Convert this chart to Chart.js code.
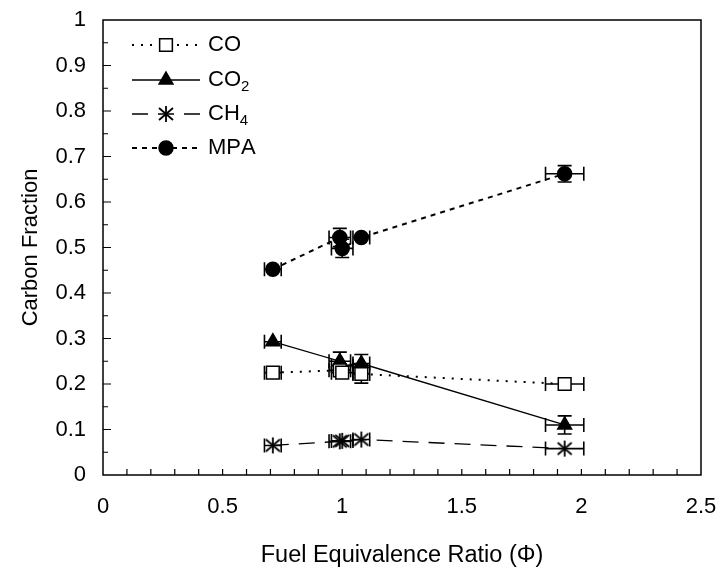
<!DOCTYPE html>
<html>
<head>
<meta charset="utf-8">
<script src="https://cdn.jsdelivr.net/npm/chart.js@4.4.0/dist/chart.umd.min.js"></script>
<style>
  html, body { margin: 0; padding: 0; background: #fff; }
  #wrap { width: 718px; height: 567px; }
</style>
</head>
<body>
<div id="wrap"><canvas id="plot" width="718" height="567"></canvas></div>
<script>
// fuel equivalence ratio of each run, with its uncertainty
const phi    = [0.71, 0.99, 1.00, 1.08, 1.93];
const phiErr = [0.035, 0.045, 0.045, 0.035, 0.08];

// carbon fraction per species and its uncertainty
const fracCO     = [0.225, 0.23, 0.225, 0.222, 0.20];
const fracErrCO  = [0.005, 0.01, 0.01, 0.02, 0.008];
const fracCO2    = [0.293, 0.25, 0.24, 0.245, 0.11];
const fracErrCO2 = [0.005, 0.02, 0.015, 0.02, 0.02];
const fracCH4    = [0.065, 0.074, 0.075, 0.078, 0.058];
const fracErrCH4 = [0.003, 0.004, 0.004, 0.004, 0.004];
const fracMPA    = [0.452, 0.522, 0.498, 0.522, 0.662];
const fracErrMPA = [0.005, 0.02, 0.02, 0.012, 0.018];

const xTicks = [0, 0.5, 1, 1.5, 2, 2.5];
const yTicks = [0, 0.1, 0.2, 0.3, 0.4, 0.5, 0.6, 0.7, 0.8, 0.9, 1];

const FONT = 'Liberation Sans, Arial, sans-serif';

// asterisk marker: vertical stroke plus an X
function makeAsterisk() {
    const c = document.createElement('canvas');
    c.width = 18; c.height = 18;
    const g = c.getContext('2d');
    g.strokeStyle = '#000';
    g.lineWidth = 1.8;
    g.beginPath();
    g.moveTo(9, 1); g.lineTo(9, 17);
    g.moveTo(2, 3); g.lineTo(16, 15);
    g.moveTo(2, 15); g.lineTo(16, 3);
    g.stroke();
    return c;
}
const asterisk = makeAsterisk();

function pts(ys) {
    return phi.map((x, i) => ({ x: x, y: ys[i] }));
}

function series(label, ys, errs, style, fill, dash, width, radius) {
    return {
        label: label,
        data: pts(ys),
        errX: phiErr,
        errY: errs,
        showLine: true,
        borderColor: '#000',
        borderWidth: width,
        borderDash: dash,
        backgroundColor: fill,
        pointStyle: style,
        pointRadius: radius,
        pointBorderWidth: 1.5,
        pointBorderColor: '#000',
        pointBackgroundColor: fill,
        pointHoverRadius: radius
    };
}

// error bars with end caps
const errorBars = {
    id: 'errorBars',
    beforeDatasetsDraw(chart) {
        const ctx = chart.ctx;
        const xs = chart.scales.x, ys = chart.scales.y;
        ctx.save();
        ctx.strokeStyle = '#000';
        ctx.lineWidth = 1.6;
        chart.data.datasets.forEach((ds) => {
            ds.data.forEach((p, i) => {
                const px = xs.getPixelForValue(p.x);
                const py = ys.getPixelForValue(p.y);
                const x0 = xs.getPixelForValue(p.x - ds.errX[i]);
                const x1 = xs.getPixelForValue(p.x + ds.errX[i]);
                const y0 = ys.getPixelForValue(p.y - ds.errY[i]);
                const y1 = ys.getPixelForValue(p.y + ds.errY[i]);
                ctx.beginPath();
                if (px - x0 > 7) {
                    ctx.moveTo(x0, py); ctx.lineTo(x1, py);
                    ctx.moveTo(x0, py - 7); ctx.lineTo(x0, py + 7);
                    ctx.moveTo(x1, py - 7); ctx.lineTo(x1, py + 7);
                }
                if (y0 - py > 7) {
                    ctx.moveTo(px, y0); ctx.lineTo(px, y1);
                    ctx.moveTo(px - 7, y0); ctx.lineTo(px + 7, y0);
                    ctx.moveTo(px - 7, y1); ctx.lineTo(px + 7, y1);
                }
                ctx.stroke();
            });
        });
        ctx.restore();
    }
};

// frame and inward tick marks
const frame = {
    id: 'frame',
    afterDraw(chart) {
        const ctx = chart.ctx;
        const a = chart.chartArea;
        const xs = chart.scales.x, ys = chart.scales.y;
        ctx.save();
        ctx.strokeStyle = '#000';
        ctx.lineWidth = 1.5;
        ctx.strokeRect(a.left, a.top, a.right - a.left, a.bottom - a.top);
        ctx.lineWidth = 1.2;
        ctx.beginPath();
        for (let k = 1; k < 20; k++) {
            const y = ys.getPixelForValue(k * 0.05);
            const len = k % 2 === 0 ? 8 : 5;
            ctx.moveTo(a.left, y); ctx.lineTo(a.left + len, y);
        }
        for (let k = 1; k < 25; k++) {
            const x = xs.getPixelForValue(k * 0.1);
            ctx.moveTo(x, a.bottom); ctx.lineTo(x, a.bottom - 6);
        }
        ctx.stroke();
        ctx.restore();
    }
};

// legend drawn inside the plot: line sample, marker, label with subscripts
const innerLegend = {
    id: 'innerLegend',
    afterDraw(chart) {
        const ctx = chart.ctx;
        const rows = [45, 80, 114, 148];
        ctx.save();
        chart.data.datasets.forEach((ds, i) => {
            const y = rows[i];
            ctx.strokeStyle = '#000';
            ctx.lineWidth = ds.borderWidth;
            ctx.setLineDash(ds.borderDash);
            ctx.beginPath();
            ctx.moveTo(132, y); ctx.lineTo(200, y);
            ctx.stroke();
            ctx.setLineDash([]);
            ctx.fillStyle = ds.pointBackgroundColor;
            ctx.lineWidth = ds.pointBorderWidth;
            Chart.helpers.drawPoint(ctx, {
                pointStyle: ds.pointStyle, radius: ds.pointRadius, rotation: 0, borderWidth: 1.5
            }, 166, y);
            // label, subscript digits drawn small and low
            ctx.fillStyle = '#000';
            ctx.textBaseline = 'middle';
            let tx = 208;
            for (const ch of ds.label) {
                const code = ch.charCodeAt(0);
                if (code >= 0x2080 && code <= 0x2089) {
                    const d = String(code - 0x2080);
                    ctx.font = '15px ' + FONT;
                    ctx.fillText(d, tx, y + 7);
                    tx += ctx.measureText(d).width;
                } else {
                    ctx.font = '22px ' + FONT;
                    ctx.fillText(ch, tx, y);
                    tx += ctx.measureText(ch).width;
                }
            }
        });
        ctx.restore();
    }
};

new Chart(document.getElementById('plot'), {
    type: 'scatter',
    data: {
        datasets: [
            series('CO', fracCO, fracErrCO, 'rect', '#fff', [2, 7], 2, 9),
            series('CO\u2082', fracCO2, fracErrCO2, 'triangle', '#000', [], 1.3, 8),
            series('CH\u2084', fracCH4, fracErrCH4, asterisk, '#000', [16, 10], 1.3, 8),
            series('MPA', fracMPA, fracErrMPA, 'circle', '#000', [5, 5], 2, 7)
        ]
    },
    options: {
        responsive: false,
        animation: false,
        devicePixelRatio: 1,
        layout: { padding: { top: 20, right: 17, left: 0, bottom: 0 } },
        plugins: {
            legend: { display: false },
            tooltip: { enabled: false }
        },
        scales: {
            x: {
                type: 'linear',
                min: 0,
                max: 2.5,
                afterFit: (s) => { s.height = 92; s.paddingLeft = 0; s.paddingRight = 0; },
                afterBuildTicks: (s) => { s.ticks = xTicks.map(v => ({ value: v })); },
                grid: { display: false, drawTicks: false },
                border: { display: false },
                ticks: {
                    padding: 19,
                    color: '#000',
                    font: { family: FONT, size: 22 },
                    callback: (v) => String(v)
                },
                title: {
                    display: true,
                    text: 'Fuel Equivalence Ratio (\u03A6)',
                    color: '#000',
                    font: { family: FONT, size: 23.5 },
                    padding: { top: 0, bottom: -3 }
                }
            },
            y: {
                type: 'linear',
                min: 0,
                max: 1,
                afterFit: (s) => { s.width = 103; s.paddingTop = 0; s.paddingBottom = 0; },
                afterBuildTicks: (s) => { s.ticks = yTicks.map(v => ({ value: v })); },
                grid: { display: false, drawTicks: false },
                border: { display: false },
                ticks: {
                    padding: 17,
                    color: '#000',
                    font: { family: FONT, size: 22 },
                    callback: (v) => String(Number(v.toFixed(1)))
                },
                title: {
                    display: true,
                    text: 'Carbon Fraction',
                    color: '#000',
                    font: { family: FONT, size: 22 },
                    padding: { top: 18, bottom: 0 }
                }
            }
        }
    },
    plugins: [errorBars, frame, innerLegend]
});
</script>
</body>
</html>
